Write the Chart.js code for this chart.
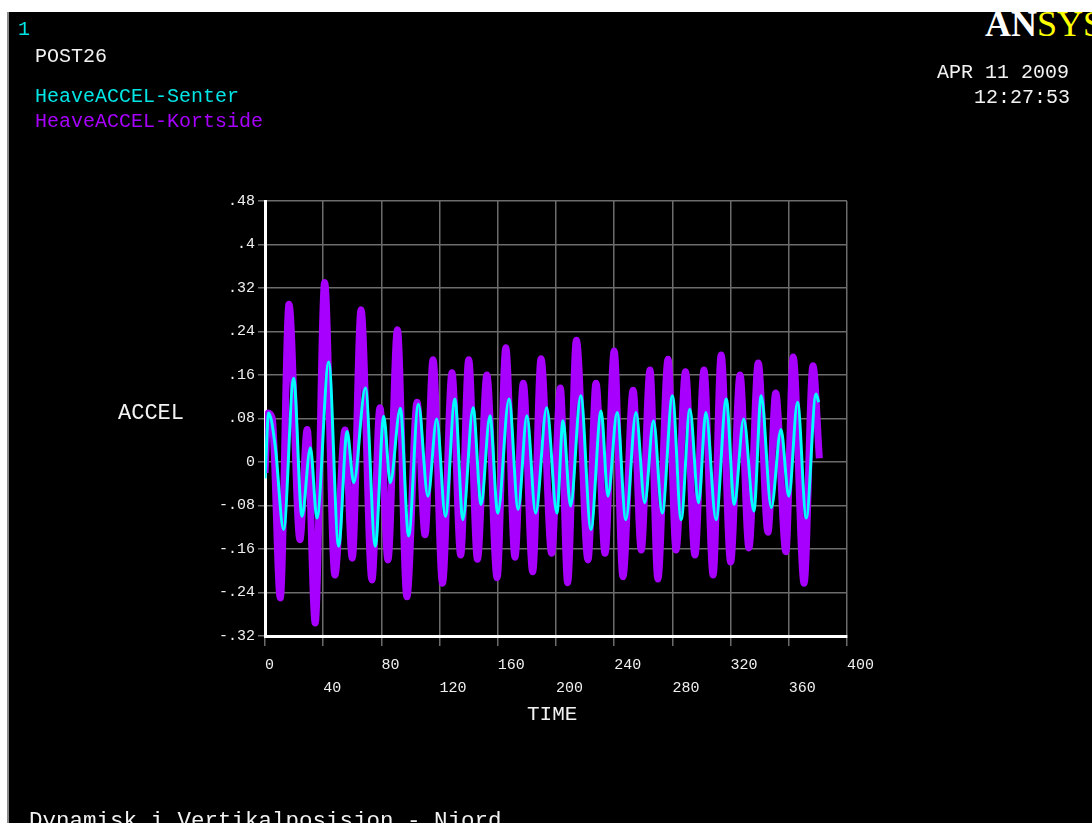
<!DOCTYPE html>
<html>
<head>
<meta charset="utf-8">
<script src="https://cdn.jsdelivr.net/npm/chart.js@4.4.1/dist/chart.umd.min.js"></script>
<style>
  html, body { margin: 0; padding: 0; background: #ffffff; }
  #page { position: relative; width: 1092px; height: 823px; overflow: hidden; background: #ffffff; }
  #panel { position: absolute; left: 9px; top: 12px; right: 0; bottom: 0; background: #000000; }
  #edge { position: absolute; left: 7px; top: 12px; width: 2px; bottom: 0; background: #8a8a8a; }
  #topbar { position: absolute; left: 0; top: 0; width: 1092px; height: 12px; background: #ffffff; z-index: 5; }
  canvas { position: absolute; left: 0; top: 0; }
  .t { position: absolute; font-family: "Liberation Mono", "DejaVu Sans Mono", monospace; line-height: 1; white-space: pre; color: #f2f2f2; }
  #logo { position: absolute; left: 985px; top: 6px; font-family: "Liberation Serif", serif; font-size: 36px; line-height: 1; white-space: pre; }
  #logo .an { color: #ffffff; font-weight: bold; }
  #logo .sys { color: #ffff00; }
</style>
</head>
<body>
<div id="page">
  <div id="panel"></div>
  <div id="edge"></div>
  <div id="logo"><span class="an">AN</span><span class="sys">SYS</span></div>
  <div id="topbar"></div>
  <canvas id="c" width="1092" height="823"></canvas>

  <div class="t" style="left:18px; top:20px; font-size:20px; color:#00e5e5;">1</div>
  <div class="t" style="left:35px; top:47px; font-size:20px;">POST26</div>
  <div class="t" style="left:35px; top:87px; font-size:20px; color:#00e5e5;">HeaveACCEL-Senter</div>
  <div class="t" style="left:35px; top:112px; font-size:20px; color:#a800ff;">HeaveACCEL-Kortside</div>
  <div class="t" style="right:23px; top:63px; font-size:20px; text-align:right;">APR 11 2009</div>
  <div class="t" style="right:22px; top:88px; font-size:20px; text-align:right;">12:27:53</div>
  <div class="t" style="left:118px; top:403px; font-size:22px;">ACCEL</div>
  <div class="t" style="left:527px; top:704px; font-size:21px;">TIME</div>
  <div class="t" style="left:29px; top:810px; font-size:22.5px;">Dynamisk i Vertikalposisjon - Njord</div>
</div>

<script>
// Heave acceleration at the short side (Kortside): turning points of the trace
const kortsideTime = [
  0, 2, 5, 10.5, 16.5, 24, 29, 34.5, 41, 48, 55, 60, 66, 73.5, 79, 84.5, 91, 97.5,
  104.5, 110, 115.5, 122, 128.5, 134.5, 140, 146, 152.5, 159.5, 165.5, 171.8, 177.5,
  184, 189.7, 197, 203, 208, 214, 222, 227.5, 233.7, 240, 246, 253, 258.6, 264.6,
  270, 277, 282.5, 289, 295.5, 301.7, 308, 313.5, 320, 326.5, 332.6, 339, 345.7,
  351, 358, 363, 370.5, 376.6, 381
];
const kortsideAccel = [
  -0.02, 0.09, 0.08, -0.25, 0.29, -0.143, 0.06, -0.296, 0.33, -0.208, 0.059, -0.177,
  0.28, -0.217, 0.10, -0.18, 0.243, -0.248, 0.11, -0.134, 0.188, -0.223, 0.164,
  -0.171, 0.188, -0.179, 0.16, -0.213, 0.21, -0.175, 0.145, -0.202, 0.19, -0.168,
  0.136, -0.222, 0.224, -0.18, 0.145, -0.168, 0.204, -0.211, 0.132, -0.162, 0.169,
  -0.215, 0.189, -0.162, 0.166, -0.171, 0.169, -0.208, 0.197, -0.184, 0.16, -0.158,
  0.182, -0.129, 0.127, -0.165, 0.193, -0.223, 0.177, 0.007
];

// Heave acceleration at the centre (Senter): turning points of the trace
const senterTime = [
  0, 2.5, 7, 12.8, 19.7, 25.4, 31.2, 35.7, 43.8, 50.6, 56.4, 61, 69, 75.8, 81.6, 86.1,
  93, 98.7, 105.4, 112, 118, 124, 130.5, 136, 143, 148.5, 154.6, 160, 167.7, 174,
  180, 186, 193.6, 200.6, 204.8, 210, 217, 224, 231, 235.7, 242, 248, 255, 261,
  267, 273, 280, 286, 292, 298, 303, 310, 317, 322.5, 329, 336, 341, 348, 354.6,
  360, 366, 372, 378.7, 380.5
];
const senterAccel = [
  -0.03, 0.09, 0.03, -0.124, 0.154, -0.10, 0.026, -0.103, 0.184, -0.155, 0.056,
  -0.038, 0.136, -0.155, 0.084, -0.038, 0.099, -0.136, 0.106, -0.063, 0.079, -0.10,
  0.116, -0.106, 0.10, -0.078, 0.085, -0.094, 0.116, -0.087, 0.085, -0.094, 0.10,
  -0.094, 0.076, -0.081, 0.122, -0.124, 0.094, -0.063, 0.091, -0.106, 0.091, -0.075,
  0.076, -0.094, 0.122, -0.106, 0.097, -0.075, 0.091, -0.106, 0.116, -0.078, 0.079,
  -0.09, 0.122, -0.084, 0.06, -0.063, 0.11, -0.103, 0.125, 0.11
];

// Axis tick values
const timeTicks = [0, 40, 80, 120, 160, 200, 240, 280, 320, 360, 400];
const accelTicks = [-0.32, -0.24, -0.16, -0.08, 0, 0.08, 0.16, 0.24, 0.32, 0.4, 0.48];

const toPoints = (xs, ys) => xs.map((x, i) => ({ x: x, y: ys[i] }));

// ".48", "-.08", "0" style labels
function accelLabel(v) {
  if (Math.abs(v) < 1e-9) return '0';
  const s = Math.abs(v).toFixed(2).replace(/0+$/, '').replace(/^0/, '');
  return (v < 0 ? '-' : '') + s;
}

const gridColor = '#6c6c6c';
const labelFont = { family: 'Liberation Mono', size: 15, lineHeight: 1.5333 };

new Chart(document.getElementById('c'), {
  type: 'line',
  data: {
    datasets: [
      {
        label: 'HeaveACCEL-Senter',
        data: toPoints(senterTime, senterAccel),
        borderColor: '#00ffff',
        borderWidth: 3,
        pointRadius: 0,
        fill: false,
        cubicInterpolationMode: 'monotone'
      },
      {
        label: 'HeaveACCEL-Kortside',
        data: toPoints(kortsideTime, kortsideAccel),
        borderColor: '#a800ff',
        borderWidth: 7,
        pointRadius: 0,
        fill: false,
        cubicInterpolationMode: 'monotone'
      }
    ]
  },
  options: {
    responsive: false,
    animation: false,
    devicePixelRatio: 1,
    layout: { padding: { left: 195, top: 201, right: 245, bottom: 87 } },
    plugins: { legend: { display: false }, tooltip: { enabled: false } },
    scales: {
      x: {
        type: 'linear',
        min: 0,
        max: 400,
        z: 1,
        afterBuildTicks: s => { s.ticks = timeTicks.map(v => ({ value: v })); },
        afterFit: s => { s.height = 100; },
        grid: { color: gridColor, tickColor: gridColor, lineWidth: 1.5, tickLength: 10 },
        border: { color: '#ffffff', width: 3 },
        ticks: {
          color: '#f0f0f0',
          font: labelFont,
          padding: 8,
          align: 'start',
          maxRotation: 0,
          autoSkip: false,
          callback: (v, i) => (i % 2 ? ['', String(v)] : String(v))
        }
      },
      y: {
        type: 'linear',
        min: -0.32,
        max: 0.48,
        z: 1,
        afterBuildTicks: s => { s.ticks = accelTicks.map(v => ({ value: v })); },
        afterFit: s => { s.width = 70; },
        grid: { color: gridColor, tickColor: gridColor, lineWidth: 1.5, tickLength: 7 },
        border: { color: '#ffffff', width: 3 },
        ticks: {
          color: '#f0f0f0',
          font: labelFont,
          padding: 3,
          autoSkip: false,
          callback: v => accelLabel(v)
        }
      }
    }
  }
});
</script>
</body>
</html>
